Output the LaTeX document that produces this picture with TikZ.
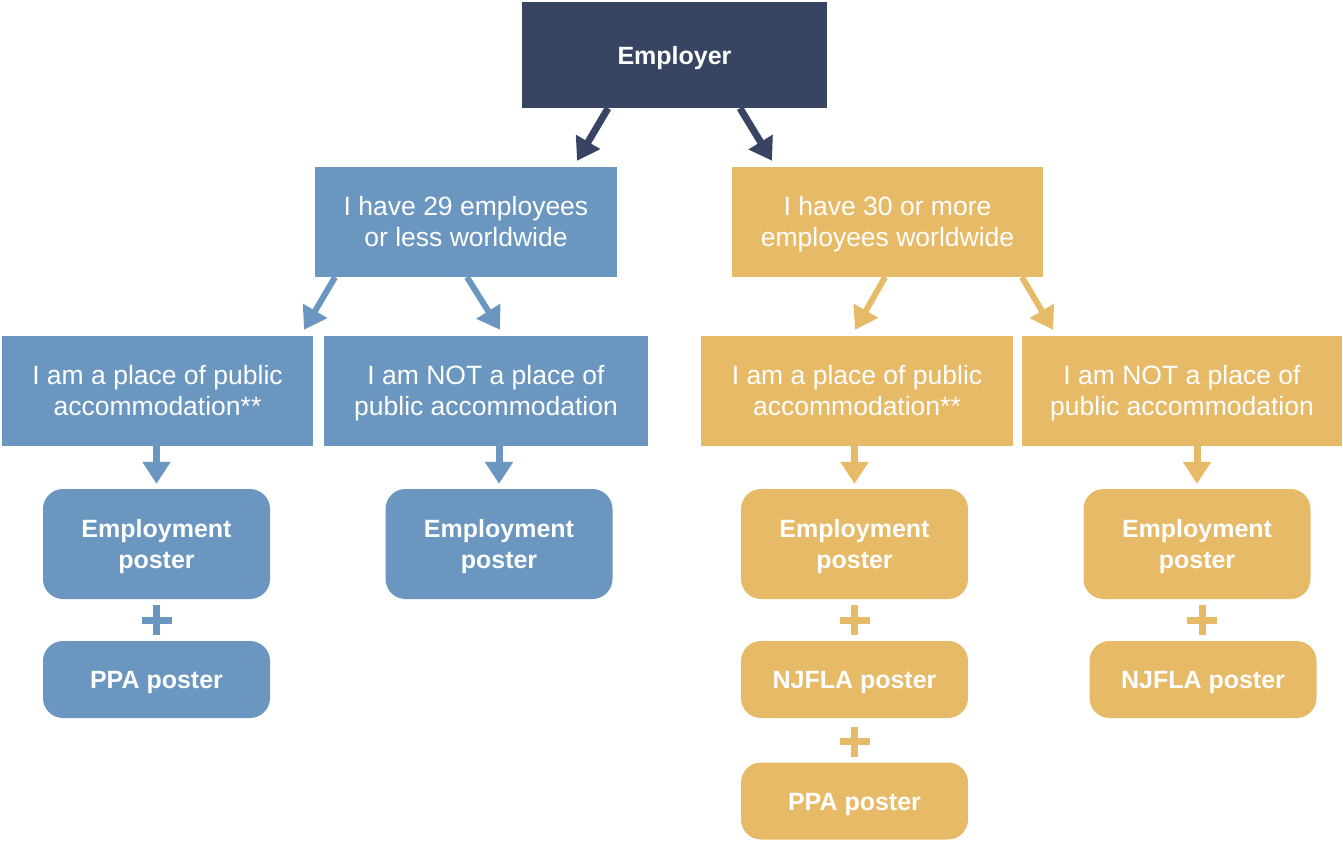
\documentclass[tikz,border=0pt]{standalone}
\usepackage{fontspec}
\setmainfont{Liberation Sans}
\usetikzlibrary{arrows.meta}
\definecolor{navy}{HTML}{374562}
\definecolor{bl}{HTML}{6A96C0}
\definecolor{yl}{HTML}{E7BA68}
\newcommand\ls{\rule[-6pt]{0pt}{30pt}}
\begin{document}
\begin{tikzpicture}[x=1pt,y=-1pt,
  box/.style={fill=#1, text=white, inner sep=0pt, align=center, font=\fontsize{26.5}{31}\selectfont},
  pbox/.style={fill=#1, text=white, inner sep=0pt, align=center, rounded corners=20pt, minimum width=227pt, font=\fontsize{25}{31}\selectfont\bfseries},
  arr/.style={draw=#1, line width=7pt, -{Triangle[length=22pt,width=27pt]}},
  plusline/.style={draw=#1, line width=7pt}]
\useasboundingbox (0,0) rectangle (1343,841);
% level 1
\node[box=navy, minimum width=305pt, minimum height=106pt, font=\fontsize{25}{31}\selectfont\bfseries] (emp) at (674.5,55) {\ls Employer};
% level 2
\node[box=bl, minimum width=302pt, minimum height=110pt] (b29) at (466,222) {\ls I have 29 employees\\\ls or less worldwide};
\node[box=yl, minimum width=311pt, minimum height=110pt] (b30) at (887.5,222) {\ls I have 30 or more\\\ls employees worldwide};
% level 3
\node[box=bl, minimum width=311pt, minimum height=110pt] (r1) at (157.5,391) {\ls I am a place of public\\\ls accommodation**};
\node[box=bl, minimum width=324pt, minimum height=110pt] (r2) at (486,391) {\ls I am NOT a place of\\\ls public accommodation};
\node[box=yl, minimum width=312pt, minimum height=110pt] (r3) at (857,391) {\ls I am a place of public\\\ls accommodation**};
\node[box=yl, minimum width=320pt, minimum height=110pt] (r4) at (1182,391) {\ls I am NOT a place of\\\ls public accommodation};
% posters
\node[pbox=bl, minimum height=110pt] (p1) at (156.5,544) {\ls Employment\\\ls poster};
\node[pbox=bl, minimum height=110pt] (p2) at (499,544) {\ls Employment\\\ls poster};
\node[pbox=yl, minimum height=110pt] (p3) at (854.5,544) {\ls Employment\\\ls poster};
\node[pbox=yl, minimum height=110pt] (p4) at (1197,544) {\ls Employment\\\ls poster};
\node[pbox=bl, minimum height=77pt] (q1) at (156.5,679.5) {\ls PPA poster};
\node[pbox=yl, minimum height=77pt] (q3) at (854.5,679.5) {\ls NJFLA poster};
\node[pbox=yl, minimum height=77pt] (q4) at (1203,679.5) {\ls NJFLA poster};
\node[pbox=yl, minimum height=77pt] (q5) at (854.5,801) {\ls PPA poster};
% diagonal arrows
\draw[arr=navy] ([xshift=-66.5pt]emp.south) -- ([xshift=111pt,yshift=6pt]b29.north);
\draw[arr=navy] ([xshift=65.5pt]emp.south) -- ([xshift=-115.5pt,yshift=6pt]b30.north);
\draw[arr=bl, line width=6pt] ([xshift=-131pt]b29.south) -- ([xshift=146.5pt,yshift=6pt]r1.north);
\draw[arr=bl, line width=6pt] ([xshift=1pt]b29.south) -- ([xshift=14pt,yshift=6pt]r2.north);
\draw[arr=yl, line width=6pt] ([xshift=-2.5pt]b30.south) -- ([xshift=-2pt,yshift=6pt]r3.north);
\draw[arr=yl, line width=6pt] ([xshift=134.5pt]b30.south) -- ([xshift=-129pt,yshift=6pt]r4.north);
% down arrows
\draw[arr=bl] (p1.north |- r1.south) -- ([yshift=5pt]p1.north);
\draw[arr=bl] (p2.north |- r2.south) -- ([yshift=5pt]p2.north);
\draw[arr=yl] (p3.north |- r3.south) -- ([yshift=5pt]p3.north);
\draw[arr=yl] (p4.north |- r4.south) -- ([yshift=5pt]p4.north);
% plus signs
\draw[plusline=bl] (141.5,620) -- (171.5,620) (156.5,605) -- (156.5,635);
\draw[plusline=yl] (839.5,620) -- (869.5,620) (854.5,605) -- (854.5,635);
\draw[plusline=yl] (1187,620) -- (1217,620) (1202,605) -- (1202,635);
\draw[plusline=yl] (839.5,741.5) -- (869.5,741.5) (854.5,726.5) -- (854.5,756.5);
\end{tikzpicture}
\end{document}
